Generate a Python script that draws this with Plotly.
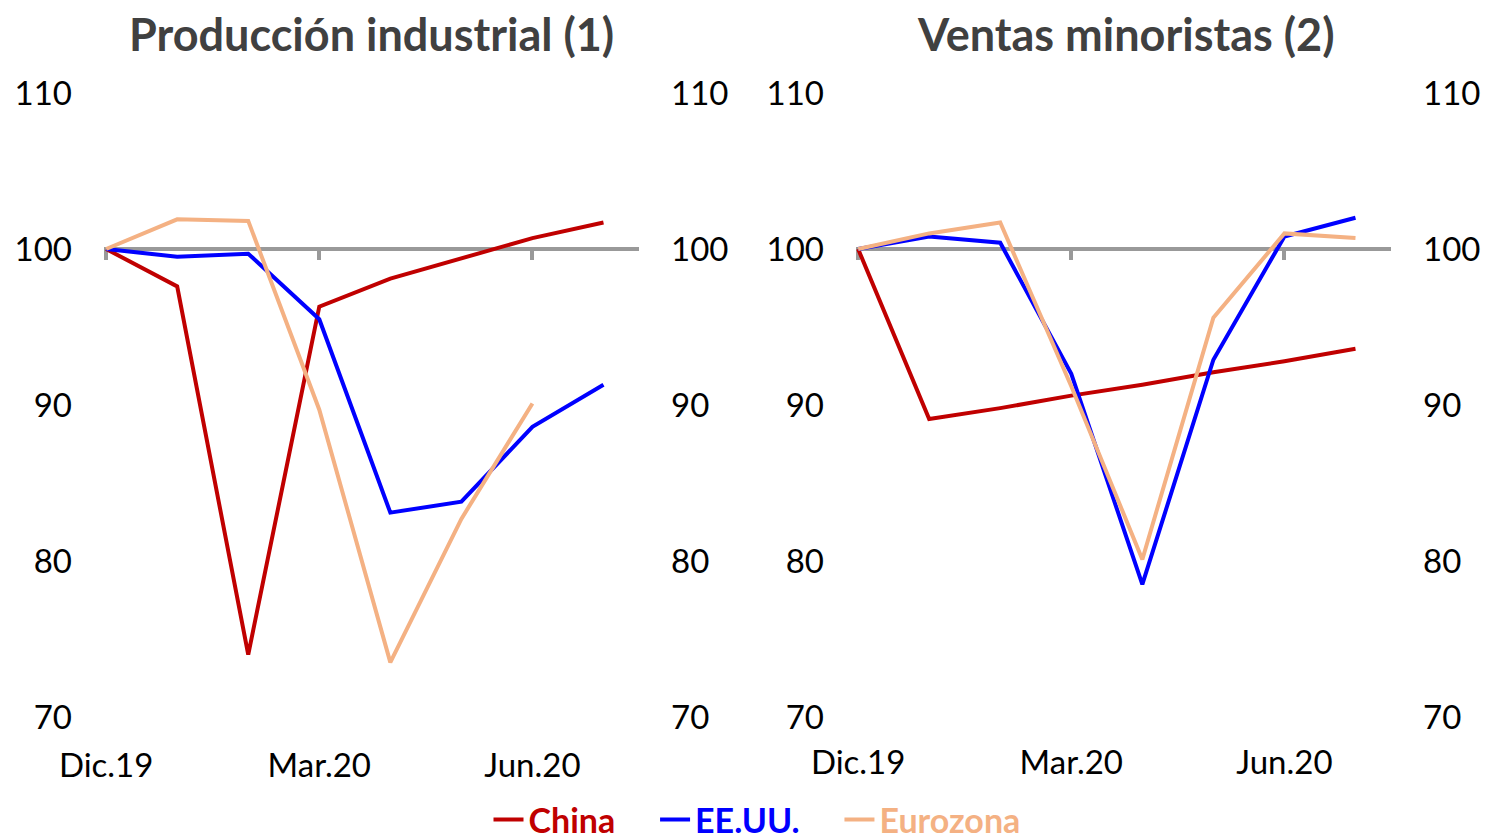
import plotly.graph_objects as go

months = ["Dic.19", "Ene.20", "Feb.20", "Mar.20", "Abr.20", "May.20", "Jun.20", "Jul.20"]
tick_months = ["Dic.19", "Mar.20", "Jun.20"]
y_ticks = [70, 80, 90, 100, 110]

# Producción industrial (1)
ip_china = [100, 97.6, 74.0, 96.3, 98.1, 99.4, 100.7, 101.7]
ip_us = [100, 99.5, 99.7, 95.5, 83.1, 83.8, 88.6, 91.3]
ip_ez = [100, 101.9, 101.8, 89.7, 73.5, 82.7, 90.1, None]

# Ventas minoristas (2)
rs_china = [100, 89.1, 89.8, 90.6, 91.3, 92.1, 92.8, 93.6]
rs_us = [100, 100.8, 100.4, 92.0, 78.5, 92.9, 100.8, 102.0]
rs_ez = [100, 101.0, 101.7, 91.2, 80.1, 95.6, 101.0, 100.7]

series_names = ["China", "EE.UU.", "Eurozona"]
colors = ["#C00000", "#0000FF", "#F4B183"]

FONT = "Lato"
W, H = 1486, 839

def px_x(p):
    return p / W

def px_y(p):
    return 1 - p / H

fig = go.Figure()

def legend_name(name, color, last):
    pad = "" if last else "&nbsp;" * 4
    return f"<span style='color:{color}'><b>{name}</b>{pad}</span>"

panels = [
    (("x", "y"), [ip_china, ip_us, ip_ez], True),
    (("x2", "y3"), [rs_china, rs_us, rs_ez], False),
]
for (xa, ya), data, show in panels:
    for i, (name, col, vals) in enumerate(zip(series_names, colors, data)):
        fig.add_trace(go.Scatter(
            x=months, y=vals, mode="lines",
            name=legend_name(name, col, i == len(series_names) - 1),
            line=dict(color=col, width=4), xaxis=xa, yaxis=ya,
            showlegend=show, legendgroup=name,
        ))

# dummy traces to activate the reference axes at 100 and the right y axes
for xa, ya in [("x3", "y"), ("x4", "y3"), ("x", "y2"), ("x2", "y4")]:
    fig.add_trace(go.Scatter(x=months, y=[None] * len(months), xaxis=xa, yaxis=ya,
                             showlegend=False, hoverinfo="skip"))

dom1 = [px_x(104), px_x(639)]
dom2 = [px_x(856), px_x(1391)]
ydom = [px_y(717), px_y(93)]
pos100 = px_y(249)
xrange_ = [-0.03, 7.5]
tickfont = dict(family=FONT, size=33, color="#000000")

def bottom_x(domain, anchor, standoff):
    return dict(domain=domain, anchor=anchor, type="category", categoryarray=months,
                range=xrange_, tickvals=tick_months, ticktext=tick_months,
                showline=False, showgrid=False, zeroline=False, ticks="",
                tickfont=tickfont, ticklabelstandoff=standoff, automargin=False)

def ref_x(overlay):
    return dict(overlaying=overlay, anchor="free", position=pos100, type="category",
                categoryarray=months, range=xrange_, tickvals=tick_months,
                showticklabels=False, showline=True, linecolor="#999999", linewidth=4,
                ticks="outside", ticklen=9, tickwidth=4, tickcolor="#999999",
                showgrid=False, zeroline=False, layer="below traces", automargin=False)

def y_ax(anchor, side, overlay=None):
    d = dict(domain=ydom, anchor=anchor, range=[70, 110], tickvals=y_ticks,
             showgrid=False, zeroline=False, showline=False, ticks="",
             tickfont=tickfont, side=side, ticklabelstandoff=31, automargin=False)
    if overlay:
        d["overlaying"] = overlay
    return d

fig.update_layout(
    width=W, height=H,
    margin=dict(l=0, r=0, t=0, b=0, autoexpand=False),
    paper_bgcolor="white", plot_bgcolor="rgba(0,0,0,0)",
    font=dict(family=FONT, size=33, color="#000000"),
    xaxis=bottom_x(dom1, "y", 26),
    xaxis2=bottom_x(dom2, "y3", 23),
    xaxis3=ref_x("x"),
    xaxis4=ref_x("x2"),
    yaxis=y_ax("x", "left"),
    yaxis2=y_ax("x", "right", "y"),
    yaxis3=y_ax("x2", "left"),
    yaxis4=y_ax("x2", "right", "y3"),
    showlegend=True,
    legend=dict(orientation="h", x=px_x(757), xanchor="center", y=px_y(820), yanchor="middle",
                font=dict(family=FONT, size=34), bgcolor="rgba(0,0,0,0)",
                itemwidth=30, tracegroupgap=0),
    annotations=[
        dict(text="<b>Producción industrial (1)</b>", x=px_x(372),
             y=px_y(34), xref="paper", yref="paper", showarrow=False,
             xanchor="center", yanchor="middle",
             font=dict(family=FONT, size=45, color="#404040")),
        dict(text="<b>Ventas minoristas (2)</b>", x=px_x(1126),
             y=px_y(34), xref="paper", yref="paper", showarrow=False,
             xanchor="center", yanchor="middle",
             font=dict(family=FONT, size=45, color="#404040")),
    ],
)

fig.write_html("out.html", config={"displayModeBar": False},
               post_script="document.body.style.margin='0';document.body.style.overflow='hidden';")
